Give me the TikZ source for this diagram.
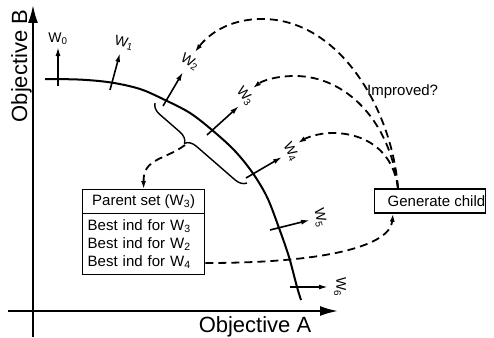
\documentclass[tikz,border=0pt]{standalone}
\usepackage{fontspec}
\setmainfont{Liberation Sans}
\usetikzlibrary{arrows.meta,decorations.pathreplacing,calc}

\begin{document}
\begin{tikzpicture}[x=1pt,y=-1pt,
  axis/.style={line width=2pt,-{Latex[length=18pt,width=10pt]}},
  front/.style={line width=2pt},
  wvec/.style={line width=1.6pt,-{Latex[length=9pt,width=5pt]}},
  wlab/.style={font=\fontsize{14}{16}\selectfont,inner sep=0pt},
  flow/.style={line width=1.8pt,dash pattern=on 8pt off 5pt,-{Latex[length=8pt,width=5pt]}},
  box/.style={draw,line width=1.4pt,inner sep=0pt},
  txt/.style={font=\fontsize{15}{18}\selectfont},
  bigtxt/.style={font=\fontsize{22}{26}\selectfont,inner sep=0pt}
]
\useasboundingbox (0,0) rectangle (494,337);

% axes
\coordinate (ybot) at (33,337);
\coordinate (ytop) at (33,5);
\coordinate (xleft) at (8,311);
\coordinate (xright) at (338,311);
\draw[axis] (ybot) -- (ytop);
\draw[axis] (xleft) -- (xright);
\node[bigtxt,anchor=base] (labA) at (255,332.5) {Objective A};
\node[bigtxt,anchor=base,rotate=90] (labB) at (27,66) {Objective B};

% Pareto front
\draw[front] plot[smooth,tension=0.55] coordinates {(45,79) (80,79.6) (111,82.5) (140,89) (165,100) (190,113) (212,130) (234,150) (252,172) (267,197) (279,228) (289,257) (297,287) (301,300)};

% weight vectors
\coordinate (w0a) at (58,86);   \coordinate (w0b) at (58,47);
\coordinate (w1a) at (110,90);  \coordinate (w1b) at (120,53);
\coordinate (w2a) at (163,106); \coordinate (w2b) at (183,72);
\coordinate (w3a) at (207,135); \coordinate (w3b) at (239,106);
\coordinate (w4a) at (246,178); \coordinate (w4b) at (282,157);
\coordinate (w5a) at (270,230); \coordinate (w5b) at (310,220);
\coordinate (w6a) at (290,287); \coordinate (w6b) at (328,287);
\foreach \i in {0,...,6} { \draw[wvec] (w\i a) -- (w\i b); }

\node[wlab] (l0) at (58,39) {W\textsubscript{0}};
\node[wlab,rotate=-14] (l1) at (124,43) {W\textsubscript{1}};
\node[wlab,rotate=-32] (l2) at (190,62) {W\textsubscript{2}};
\node[wlab,rotate=-50] (l3) at (245,96) {W\textsubscript{3}};
\node[wlab,rotate=-62] (l4) at (291,152) {W\textsubscript{4}};
\node[wlab,rotate=-78] (l5) at (320,218) {W\textsubscript{5}};
\node[wlab,rotate=-90] (l6) at (340,287) {W\textsubscript{6}};

% neighbourhood brace
\coordinate (bra) at (155,103);
\coordinate (brb) at (247,183);
\draw[line width=1.4pt,decorate,decoration={brace,amplitude=11pt,aspect=0.4,mirror}] (bra) -- (brb);
\coordinate (cusp) at (185,145);

% boxes
\node[box,txt,minimum width=122pt,minimum height=24pt,anchor=north west] (ps) at (82,189) {Parent set (W\textsubscript{3})};
\node[box,txt,minimum width=122pt,minimum height=61pt,anchor=north west,text width=112pt,inner xsep=5pt,align=left] (pl) at (82,213)
  {Best ind for W\textsubscript{3}\\Best ind for W\textsubscript{2}\\Best ind for W\textsubscript{4}};
\node[box,txt,minimum height=24pt,anchor=west] (gen) at (374,201) {\hspace{13pt}Generate child\hspace{5pt}};
\node[txt,anchor=base west,inner sep=0pt] (imp) at (367,95) {Improved?};

% flows
\coordinate (gtop) at ($(gen.north west)+(24,0)$);
\coordinate (gbot) at ($(gen.south west)+(19,0)$);
\coordinate (pright) at (pl.east |- 0,263);
\draw[flow] (cusp) .. controls (165,160) and (143,158) .. (ps.north);
\draw[flow] (pright) .. controls (330,263) and (390,245) .. (gbot);
\draw[flow] (gtop) .. controls (392,110) and (340,19) .. (262,19) .. controls (228,19) and (208,35) .. (195,52);
\draw[flow] (gtop) .. controls (390,120) and (345,76) .. (295,76) .. controls (275,76) and (262,81) .. (253,88);
\draw[flow] (gtop) .. controls (393,150) and (365,133) .. (332,133) .. controls (318,133) and (306,138) .. (298,143);
\end{tikzpicture}
\end{document}
